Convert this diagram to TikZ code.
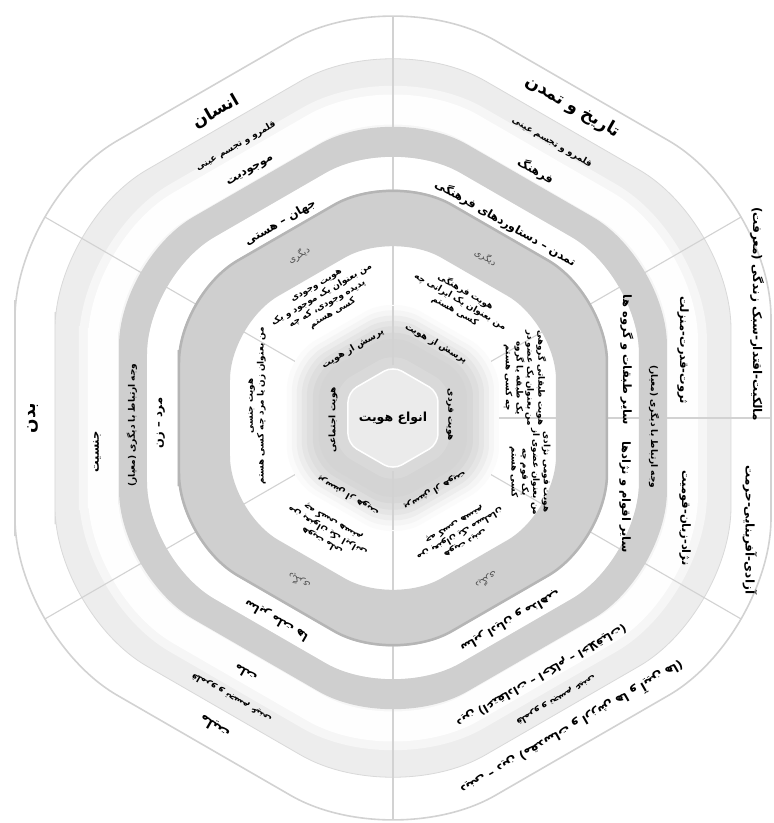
\documentclass[tikz,border=0pt]{standalone}
\usepackage{fontspec}
\usepackage{tikz}
\newfontfamily\fa[Script=Arabic]{DejaVu Sans}
\TeXXeTstate=1
\newcommand{\fr}[1]{\beginR #1\endR}
% rounded hexagon, pointy top: #1 = apothem, #2 = corner rounding
\newcommand{\hexpath}[2]{[rounded corners=#2pt] (180:#1) -- (210:{1.1547*#1}) -- (270:{1.1547*#1}) -- (330:{1.1547*#1}) -- (30:{1.1547*#1}) -- (90:{1.1547*#1}) -- (150:{1.1547*#1}) -- cycle}

\begin{document}
\begin{tikzpicture}[x=1pt, y=1pt,
    divline/.style={draw=gray!35, line width=1.1pt},
    big/.style={font=\fa\bfseries\fontsize{17}{20}\selectfont},
    long/.style={font=\fa\bfseries\fontsize{12}{15}\selectfont},
    mid/.style={font=\fa\bfseries\fontsize{11.5}{14}\selectfont},
    small/.style={font=\fa\bfseries\fontsize{9}{11}\selectfont},
    other/.style={font=\fa\fontsize{9}{10}\selectfont, text=gray!60!black},
    block/.style={font=\fa\bfseries\fontsize{8.8}{10.8}\selectfont, align=center},
    core/.style={font=\fa\bfseries\fontsize{9}{11}\selectfont}]
    \useasboundingbox (-393,-405) rectangle (381,418);

    % Outer rings
    \draw[gray!35, line width=1.6pt, fill=white] \hexpath{378}{118};
    \draw[gray!30, line width=0.8pt, fill=gray!14] \hexpath{338}{106};
    \draw[white, line width=44pt, opacity=0.5] \hexpath{292}{92};
    \draw[white, line width=30pt, opacity=0.9] \hexpath{290}{90};
    \fill[white] \hexpath{246}{78};

    % Sector dividers
    \begin{scope}
        \clip \hexpath{378}{118};
        \foreach \t in {0,30,90,150,210,270,330} {
            \draw[divline] (\t:100) -- (\t:460);
        }
    \end{scope}

    % Gray bands
    \fill[gray!38, even odd rule] \hexpath{274}{86} \hexpath{246}{78};
    \fill[gray!38, even odd rule] \hexpath{215}{68} \hexpath{163}{56};
    \draw[gray!58, line width=2.5pt] \hexpath{214}{68};

    % Inner ring and core
    \foreach \r/\c in {106/3, 101/8, 96/14, 91/20, 86/26, 80/31, 74/34, 66/34, 57/30} {
        \fill[gray!\c] \hexpath{\r}{0.3*\r};
    }
    \draw[white, line width=1.5pt, fill=gray!16] \hexpath{45}{10};
    \draw[divline] (90:53) -- (90:112);
    \draw[divline] (270:53) -- (270:112);

    \node[core, font=\fa\bfseries\fontsize{12.5}{14}\selectfont] (anva) at (0,0) {\fr{انواع هویت}};
    \node[core, rotate=-90] (fardi) at (57,3) {\fr{هویت فردی}};
    \node[core, rotate=90] (ejtemai) at (-60,-2) {\fr{هویت اجتماعی}};

    % Sector 1: top left
    \node[big, rotate=30] (ensan) at (120:354) {\fr{انسان}};
    \node[small, rotate=30] (qalam1) at (120:314) {\fr{قلمرو و تجسم عینی}};
    \node[mid, rotate=30] (mojud) at (120:285) {\fr{موجودیت}};
    \node[mid, rotate=30] (jahan) at (120:225) {\fr{جهان – هستی}};
    \node[other, rotate=30] (digar1) at (120:188) {\fr{دیگری}};
    \node[block, rotate=30] (vojudi) at (120:136) {\fr{هویت وجودی}\\\fr{من بعنوان یک موجود و یک}\\\fr{پدیده وجودی، که چه}\\\fr{کسی هستم}};
    \node[core, rotate=30] (porsesh1) at (120:80) {\fr{پرسش از هویت}};

    % Sector 2: top right
    \node[big, rotate=-30] (tarikh) at (60:359) {\fr{تاریخ و تمدن}};
    \node[small, rotate=-30] (qalam2) at (60:318) {\fr{قلمرو و تجسم عینی}};
    \node[mid, rotate=-30] (farhang) at (60:285) {\fr{فرهنگ}};
    \node[mid, rotate=-30] (tamadon) at (60:225) {\fr{تمدن – دستاوردهای فرهنگی}};
    \node[other, rotate=-30] (digar2) at (60:185) {\fr{دیگری}};
    \node[block, rotate=-30] (farhangi) at (60:135) {\fr{هویت فرهنگی}\\\fr{من بعنوان یک ایرانی چه}\\\fr{کسی هستم}};
    \node[core, rotate=-30] (porsesh2) at (60:86) {\fr{پرسش از هویت}};

    % Sector 3: right upper
    \node[long, rotate=-90] (malek) at (364,104) {\fr{مالکیت-اقتدار-سبک زندگی (معرفت)}};
    \node[mid, rotate=-90] (servat) at (290,68) {\fr{ثروت-قدرت-منزلت}};
    \node[mid, rotate=-90] (tabaqat) at (234,58) {\fr{سایر طبقات و گروه ها}};
    \node[block, rotate=-90] (tabaqati) at (132,40) {\fr{هویت طبقاتی گروهی}\\\fr{من بعنوان یک عضو در}\\\fr{یک طبقه یا گروه}\\\fr{چه کسی هستم}};

    % Sector 4: right lower
    \node[long, rotate=-90] (azadi) at (357,-112) {\fr{آزادی-آفرینایی-حرمت}};
    \node[mid, rotate=-90] (nezhad) at (292,-100) {\fr{نژاد-زبان-قومیت}};
    \node[mid, rotate=-90] (aqvam) at (232,-79) {\fr{سایر اقوام و نژادها}};
    \node[block, rotate=-90] (qomi) at (137,-54) {\fr{هویت قومی نژادی}\\\fr{من بعنوان عضوی از}\\\fr{یک قوم چه}\\\fr{کسی هستم}};

    % Sector 5: bottom right
    \node[long, rotate=210] (dini) at (300:358) {\fr{دینی – دین (مقدسات و ارزش ها و آیین ها)}};
    \node[small, rotate=210] (qalam5) at (300:326) {\fr{قلمرو و تجسم عینی}};
    \node[mid, rotate=210] (din) at (300:297) {\fr{دین (اعتقادات – احکام – اخلاقیات)}};
    \node[mid, rotate=210] (adyan) at (300:234) {\fr{سایر ادیان و مذاهب}};
    \node[other, rotate=210] (digar5) at (300:187) {\fr{دیگری}};
    \node[block, rotate=210] (dinii) at (300:133) {\fr{هویت دینی}\\\fr{من بعنوان یک مسلمان}\\\fr{چه کسی هستم}};
    \node[core, rotate=210] (porsesh5) at (300:84) {\fr{پرسش از هویت}};

    % Sector 6: bottom left
    \node[mid, font=\fa\bfseries\fontsize{13}{15}\selectfont, rotate=150] (melliyat) at (240:356) {\fr{ملیت}};
    \node[small, rotate=150] (qalam6) at (240:323) {\fr{قلمرو و تجسم عینی}};
    \node[mid, rotate=150] (mellat) at (240:295) {\fr{ملت}};
    \node[mid, rotate=150] (mellal) at (240:233) {\fr{سایر ملت ها}};
    \node[other, rotate=150] (digar6) at (240:188) {\fr{دیگری}};
    \node[block, rotate=150] (melli) at (240:131) {\fr{هویت ملی}\\\fr{من بعنوان یک ایرانی}\\\fr{چه کسی هستم}};
    \node[core, rotate=150] (porsesh6) at (240:90) {\fr{پرسش از هویت}};

    % Sector 7: left
    \node[big, rotate=90] (badan) at (-360,0) {\fr{بدن}};
    \node[mid, rotate=90] (jensiyat) at (-296,-34) {\fr{جنسیت}};
    \node[small, rotate=90] (vajh1) at (-261,-7) {\fr{وجه ارتباط با دیگری (معیار)}};
    \node[small, rotate=-90] (vajh2) at (261,-9) {\fr{وجه ارتباط با دیگری (معیار)}};
    \node[mid, rotate=90] (mardzan) at (-232,-5) {\fr{مرد – زن}};
    \node[block, rotate=90] (jensi) at (-136,12) {\fr{هویت جنسی}\\\fr{من بعنوان زن یا مرد چه کسی هستم}};
\end{tikzpicture}
\end{document}
